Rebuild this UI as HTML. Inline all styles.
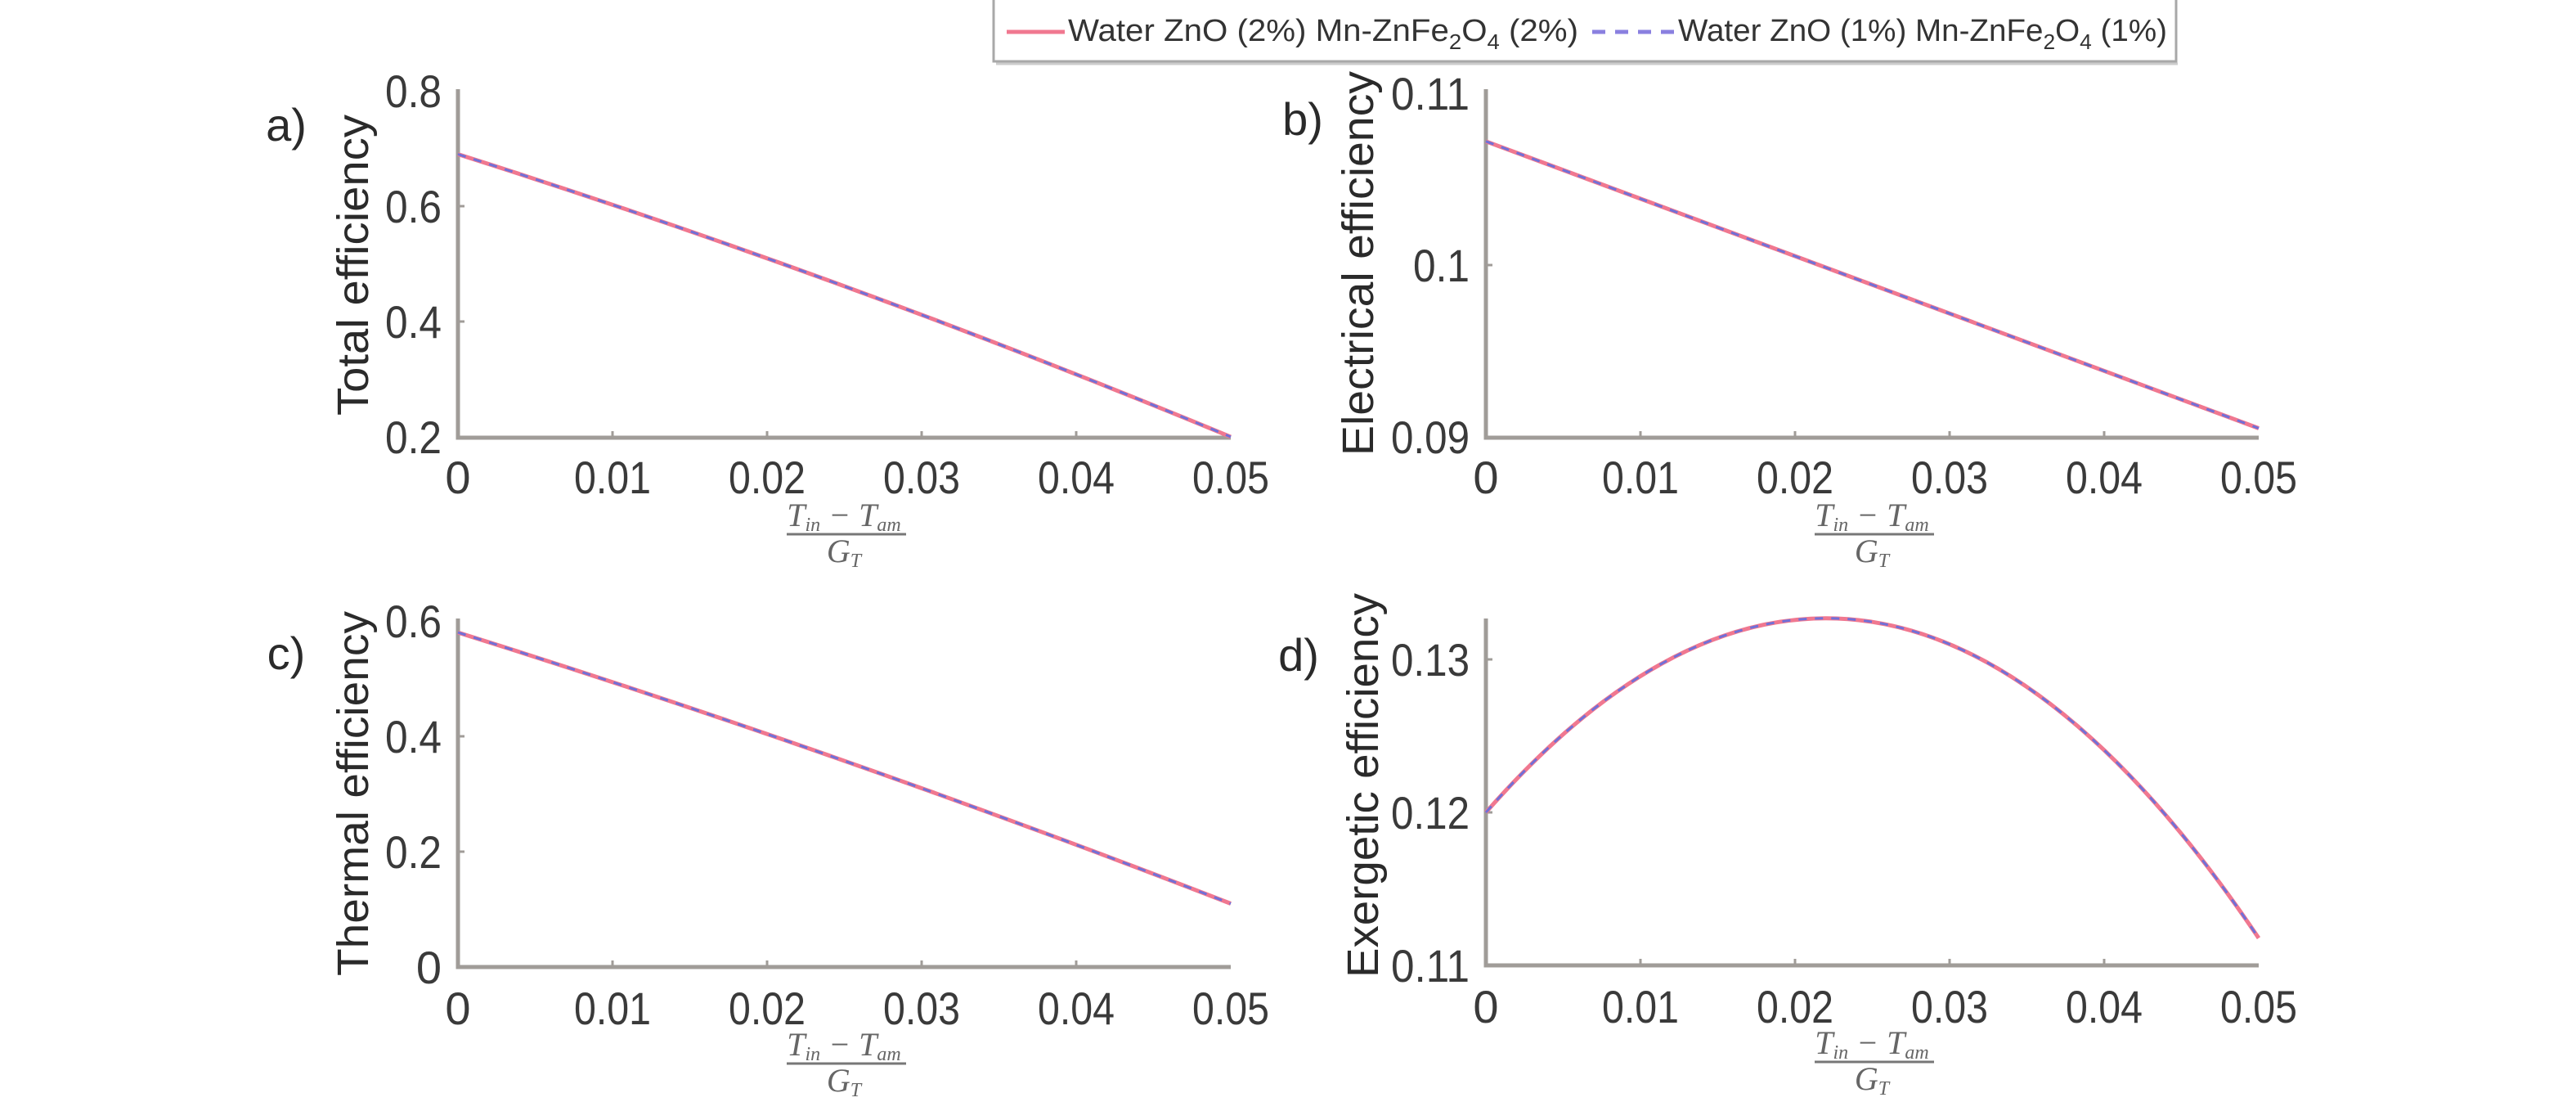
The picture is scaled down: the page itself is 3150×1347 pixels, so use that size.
<!DOCTYPE html>
<html><head><meta charset="utf-8"><style>
html,body{margin:0;padding:0;background:#fff;}
svg{display:block;}
text{font-family:"Liberation Sans",sans-serif;fill:#3a3a3a;}
.tk{font-size:56px;}
.yl{font-size:54px;fill:#2a2a2a;}
.pl{font-size:56px;fill:#2a2a2a;}
.fr{font-family:"Liberation Serif",serif;font-style:italic;font-size:40px;fill:#666;}
.lg{font-size:38px;fill:#333;}
</style></head><body>
<svg width="3150" height="1347" viewBox="0 0 3150 1347" xmlns="http://www.w3.org/2000/svg">
<rect width="3150" height="1347" fill="#fff"/>
<!-- Legend -->
<rect x="1215" y="-4" width="1446" height="79" fill="#fff" stroke="#a8a8a8" stroke-width="3"/>
<line x1="1218" y1="78" x2="2663" y2="78" stroke="#ccc" stroke-width="3"/>
<line x1="1231" y1="39" x2="1302" y2="39" stroke="#f07890" stroke-width="5"/>
<text class="lg" x="1306" y="50" textLength="624" lengthAdjust="spacingAndGlyphs">Water ZnO (2%) Mn-ZnFe<tspan font-size="26" dy="10">2</tspan><tspan dy="-10">O</tspan><tspan font-size="26" dy="10">4</tspan><tspan dy="-10"> (2%)</tspan></text>
<line x1="1947" y1="39" x2="2049" y2="39" stroke="#8a80e0" stroke-width="5" stroke-dasharray="16,12"/>
<text class="lg" x="2052" y="50" textLength="598" lengthAdjust="spacingAndGlyphs">Water ZnO (1%) Mn-ZnFe<tspan font-size="26" dy="10">2</tspan><tspan dy="-10">O</tspan><tspan font-size="26" dy="10">4</tspan><tspan dy="-10"> (1%)</tspan></text>

<!-- Panel a -->
<g>
<path d="M560 109 V535 H1505" fill="none" stroke="#a09c98" stroke-width="5"/>
<g stroke="#a09c98" stroke-width="3"><line x1="749" y1="535" x2="749" y2="527"/><line x1="938" y1="535" x2="938" y2="527"/><line x1="1127" y1="535" x2="1127" y2="527"/><line x1="1316" y1="535" x2="1316" y2="527"/><line x1="560" y1="252" x2="568" y2="252"/><line x1="560" y1="393" x2="568" y2="393"/></g>
<path d="M560 188.5 Q1032.5 338.4 1505 534" fill="none" stroke="#f07890" stroke-width="5"/>
<path d="M560 188.5 Q1032.5 338.4 1505 534" fill="none" stroke="#7070d8" stroke-width="3" stroke-dasharray="10,10"/>
<g class="tk" text-anchor="end">
<text x="540" y="131" textLength="69" lengthAdjust="spacingAndGlyphs">0.8</text>
<text x="540" y="272" textLength="69" lengthAdjust="spacingAndGlyphs">0.6</text>
<text x="540" y="413" textLength="69" lengthAdjust="spacingAndGlyphs">0.4</text>
<text x="540" y="554" textLength="69" lengthAdjust="spacingAndGlyphs">0.2</text>
</g>
<g class="tk" text-anchor="middle">
<text x="560" y="603">0</text>
<text x="749" y="603" textLength="94" lengthAdjust="spacingAndGlyphs">0.01</text>
<text x="938" y="603" textLength="94" lengthAdjust="spacingAndGlyphs">0.02</text>
<text x="1127" y="603" textLength="94" lengthAdjust="spacingAndGlyphs">0.03</text>
<text x="1316" y="603" textLength="94" lengthAdjust="spacingAndGlyphs">0.04</text>
<text x="1505" y="603" textLength="94" lengthAdjust="spacingAndGlyphs">0.05</text>
</g>
<text class="yl" transform="translate(450,324) rotate(-90)" text-anchor="middle" textLength="368" lengthAdjust="spacingAndGlyphs">Total efficiency</text>
<text class="pl" x="350" y="172" text-anchor="middle">a)</text>
<g text-anchor="middle"><text class="fr" x="1032" y="643">T<tspan font-size="24" dy="6">in</tspan><tspan dy="-6"> − T</tspan><tspan font-size="24" dy="6">am</tspan></text>
<line x1="962" y1="653" x2="1108" y2="653" stroke="#777" stroke-width="3"/>
<text class="fr" x="1032" y="687">G<tspan font-size="24" dy="6">T</tspan></text></g>
</g>

<!-- Panel b -->
<g>
<path d="M1817 109 V535 H2762" fill="none" stroke="#a09c98" stroke-width="5"/>
<g stroke="#a09c98" stroke-width="3"><line x1="2006" y1="535" x2="2006" y2="527"/><line x1="2195" y1="535" x2="2195" y2="527"/><line x1="2384" y1="535" x2="2384" y2="527"/><line x1="2573" y1="535" x2="2573" y2="527"/><line x1="1817" y1="324" x2="1825" y2="324"/></g>
<path d="M1817 172.8 L2762 523.5" fill="none" stroke="#f07890" stroke-width="5"/>
<path d="M1817 172.8 L2762 523.5" fill="none" stroke="#7070d8" stroke-width="3" stroke-dasharray="10,10"/>
<g class="tk" text-anchor="end">
<text x="1797" y="134" textLength="96" lengthAdjust="spacingAndGlyphs">0.11</text>
<text x="1797" y="344" textLength="69" lengthAdjust="spacingAndGlyphs">0.1</text>
<text x="1797" y="554" textLength="96" lengthAdjust="spacingAndGlyphs">0.09</text>
</g>
<g class="tk" text-anchor="middle">
<text x="1817" y="603">0</text>
<text x="2006" y="603" textLength="94" lengthAdjust="spacingAndGlyphs">0.01</text>
<text x="2195" y="603" textLength="94" lengthAdjust="spacingAndGlyphs">0.02</text>
<text x="2384" y="603" textLength="94" lengthAdjust="spacingAndGlyphs">0.03</text>
<text x="2573" y="603" textLength="94" lengthAdjust="spacingAndGlyphs">0.04</text>
<text x="2762" y="603" textLength="94" lengthAdjust="spacingAndGlyphs">0.05</text>
</g>
<text class="yl" transform="translate(1679,322) rotate(-90)" text-anchor="middle" textLength="470" lengthAdjust="spacingAndGlyphs">Electrical efficiency</text>
<text class="pl" x="1593" y="165" text-anchor="middle">b)</text>
<g text-anchor="middle"><text class="fr" x="2289" y="643">T<tspan font-size="24" dy="6">in</tspan><tspan dy="-6"> − T</tspan><tspan font-size="24" dy="6">am</tspan></text>
<line x1="2219" y1="653" x2="2365" y2="653" stroke="#777" stroke-width="3"/>
<text class="fr" x="2289" y="687">G<tspan font-size="24" dy="6">T</tspan></text></g>
</g>

<!-- Panel c -->
<g>
<path d="M560 756 V1182 H1505" fill="none" stroke="#a09c98" stroke-width="5"/>
<g stroke="#a09c98" stroke-width="3"><line x1="749" y1="1182" x2="749" y2="1174"/><line x1="938" y1="1182" x2="938" y2="1174"/><line x1="1127" y1="1182" x2="1127" y2="1174"/><line x1="1316" y1="1182" x2="1316" y2="1174"/><line x1="560" y1="900" x2="568" y2="900"/><line x1="560" y1="1041" x2="568" y2="1041"/></g>
<path d="M560 773.1 Q1032.5 921.2 1505 1104.5" fill="none" stroke="#f07890" stroke-width="5"/>
<path d="M560 773.1 Q1032.5 921.2 1505 1104.5" fill="none" stroke="#7070d8" stroke-width="3" stroke-dasharray="10,10"/>
<g class="tk" text-anchor="end">
<text x="540" y="779" textLength="69" lengthAdjust="spacingAndGlyphs">0.6</text>
<text x="540" y="920" textLength="69" lengthAdjust="spacingAndGlyphs">0.4</text>
<text x="540" y="1061" textLength="69" lengthAdjust="spacingAndGlyphs">0.2</text>
<text x="540" y="1202">0</text>
</g>
<g class="tk" text-anchor="middle">
<text x="560" y="1252">0</text>
<text x="749" y="1252" textLength="94" lengthAdjust="spacingAndGlyphs">0.01</text>
<text x="938" y="1252" textLength="94" lengthAdjust="spacingAndGlyphs">0.02</text>
<text x="1127" y="1252" textLength="94" lengthAdjust="spacingAndGlyphs">0.03</text>
<text x="1316" y="1252" textLength="94" lengthAdjust="spacingAndGlyphs">0.04</text>
<text x="1505" y="1252" textLength="94" lengthAdjust="spacingAndGlyphs">0.05</text>
</g>
<text class="yl" transform="translate(450,970) rotate(-90)" text-anchor="middle" textLength="446" lengthAdjust="spacingAndGlyphs">Thermal efficiency</text>
<text class="pl" x="350" y="818" text-anchor="middle">c)</text>
<g text-anchor="middle"><text class="fr" x="1032" y="1290">T<tspan font-size="24" dy="6">in</tspan><tspan dy="-6"> − T</tspan><tspan font-size="24" dy="6">am</tspan></text>
<line x1="962" y1="1300" x2="1108" y2="1300" stroke="#777" stroke-width="3"/>
<text class="fr" x="1032" y="1334">G<tspan font-size="24" dy="6">T</tspan></text></g>
</g>

<!-- Panel d -->
<g>
<path d="M1817 756 V1180 H2762" fill="none" stroke="#a09c98" stroke-width="5"/>
<g stroke="#a09c98" stroke-width="3"><line x1="2006" y1="1180" x2="2006" y2="1172"/><line x1="2195" y1="1180" x2="2195" y2="1172"/><line x1="2384" y1="1180" x2="2384" y2="1172"/><line x1="2573" y1="1180" x2="2573" y2="1172"/><line x1="1817" y1="806" x2="1825" y2="806"/><line x1="1817" y1="993" x2="1825" y2="993"/></g>
<path d="M1817 993 C2132 634.5 2447 679.4 2762 1146.7" fill="none" stroke="#f07890" stroke-width="5"/>
<path d="M1817 993 C2132 634.5 2447 679.4 2762 1146.7" fill="none" stroke="#7070d8" stroke-width="3" stroke-dasharray="10,10"/>
<g class="tk" text-anchor="end">
<text x="1797" y="826" textLength="96" lengthAdjust="spacingAndGlyphs">0.13</text>
<text x="1797" y="1013" textLength="96" lengthAdjust="spacingAndGlyphs">0.12</text>
<text x="1797" y="1200" textLength="96" lengthAdjust="spacingAndGlyphs">0.11</text>
</g>
<g class="tk" text-anchor="middle">
<text x="1817" y="1250">0</text>
<text x="2006" y="1250" textLength="94" lengthAdjust="spacingAndGlyphs">0.01</text>
<text x="2195" y="1250" textLength="94" lengthAdjust="spacingAndGlyphs">0.02</text>
<text x="2384" y="1250" textLength="94" lengthAdjust="spacingAndGlyphs">0.03</text>
<text x="2573" y="1250" textLength="94" lengthAdjust="spacingAndGlyphs">0.04</text>
<text x="2762" y="1250" textLength="94" lengthAdjust="spacingAndGlyphs">0.05</text>
</g>
<text class="yl" transform="translate(1685,960) rotate(-90)" text-anchor="middle" textLength="470" lengthAdjust="spacingAndGlyphs">Exergetic efficiency</text>
<text class="pl" x="1588" y="820" text-anchor="middle">d)</text>
<g text-anchor="middle"><text class="fr" x="2289" y="1288">T<tspan font-size="24" dy="6">in</tspan><tspan dy="-6"> − T</tspan><tspan font-size="24" dy="6">am</tspan></text>
<line x1="2219" y1="1298" x2="2365" y2="1298" stroke="#777" stroke-width="3"/>
<text class="fr" x="2289" y="1332">G<tspan font-size="24" dy="6">T</tspan></text></g>
</g>
</svg>
</body></html>
